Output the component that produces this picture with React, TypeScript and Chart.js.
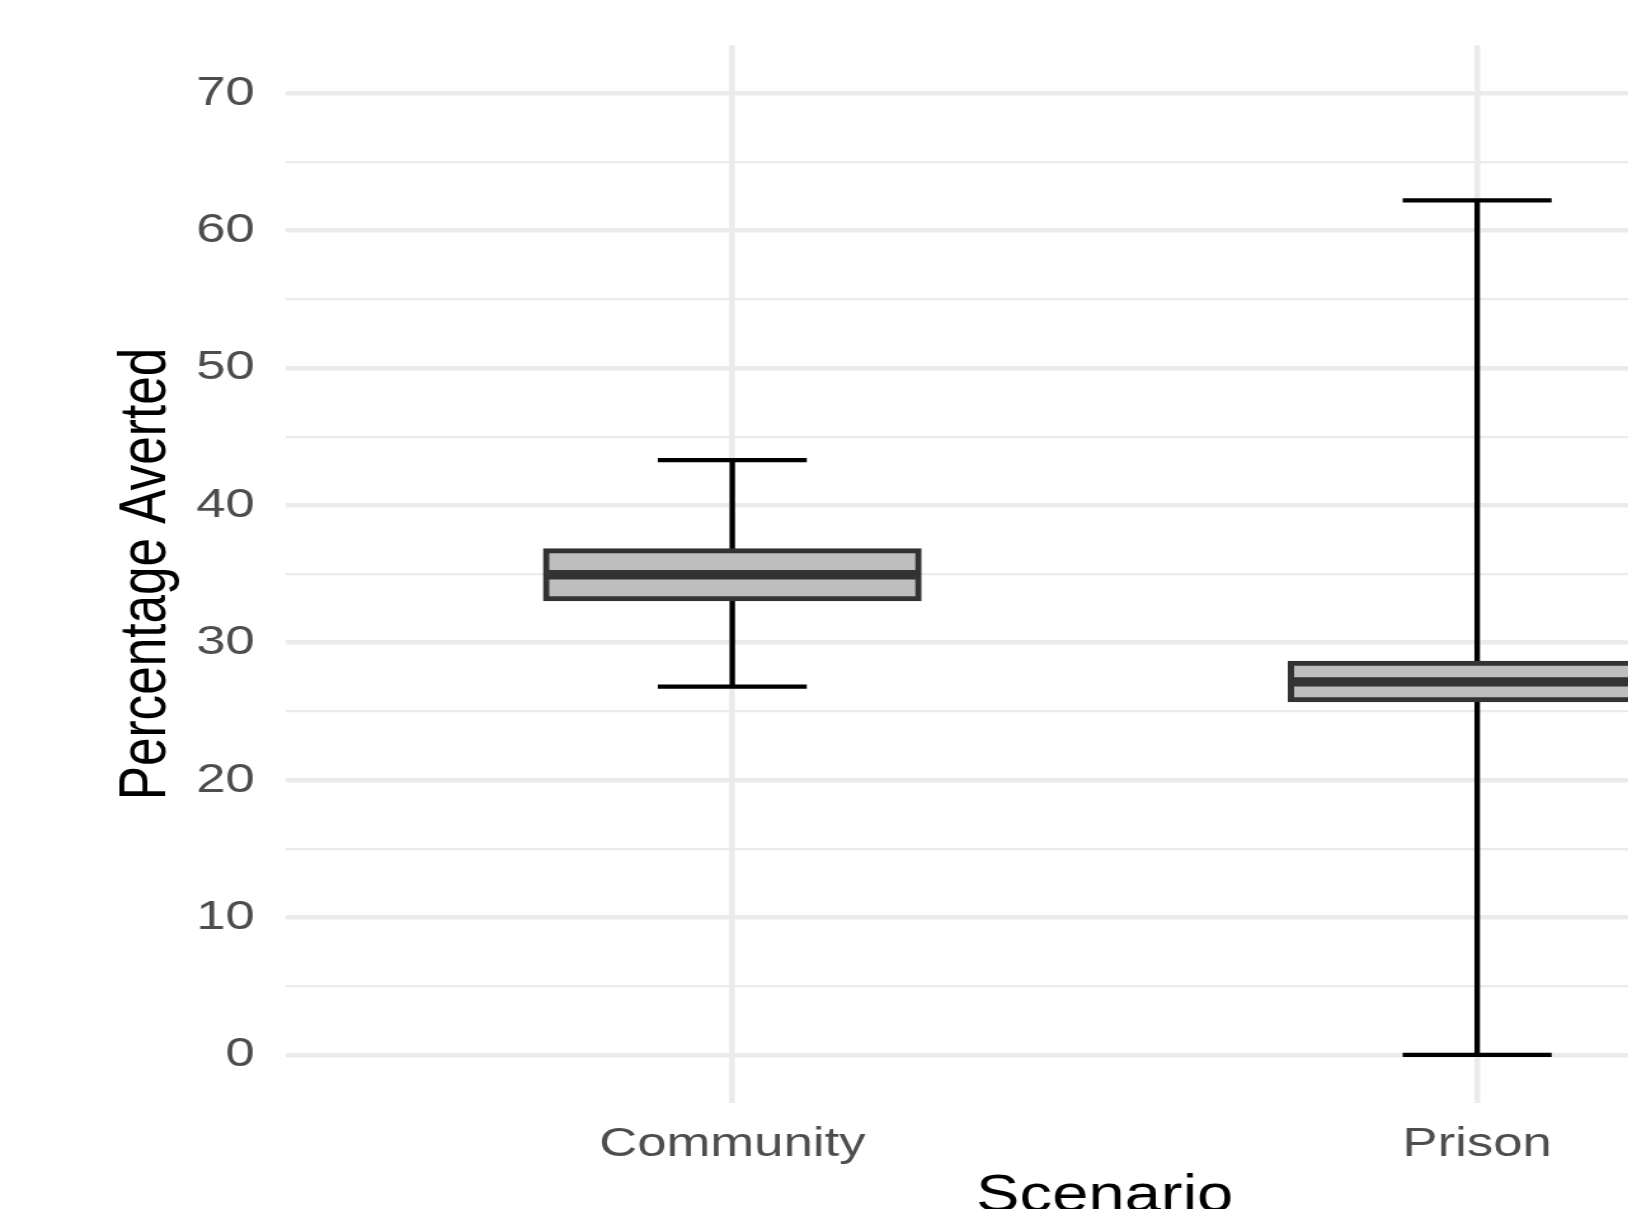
import React, { useEffect, useRef } from 'react';
import { Chart, registerables } from 'chart.js';

Chart.register(...registerables);

// ---- data ----
const categories = ['Community', 'Prison'];
const whiskerLow = [26.8, 0.0];
const q1 = [33.2, 25.85];
const median = [34.95, 27.15];
const q3 = [36.7, 28.5];
const whiskerHigh = [43.3, 62.2];
const yTicks = [0, 5, 10, 15, 20, 25, 30, 35, 40, 45, 50, 55, 60, 65, 70];
const yLabelStep = 10;
const yMin = -3.5;
const yMax = 73.5;
const xMin = -0.6;
const xMax = 1.6;
const capHalfWidth = 0.1;

// ---- layout / style ----
const X_STRETCH = 1.27;
const W = 1580;
const H = 1228;
const FONT = '"Liberation Sans", Arial, Helvetica, sans-serif';
const GRID = '#EBEBEB';

const boxExtras = {
  id: 'boxExtras',
  beforeDatasetsDraw(chart: any) {
    const { ctx } = chart;
    const x = chart.scales.x;
    const y = chart.scales.y;
    ctx.save();
    ctx.strokeStyle = '#000000';
    ctx.lineWidth = 4.3;
    ctx.lineCap = 'butt';
    categories.forEach((_, i) => {
      const cx = x.getPixelForValue(i);
      const yLo = y.getPixelForValue(whiskerLow[i]);
      const yHi = y.getPixelForValue(whiskerHigh[i]);
      ctx.beginPath();
      ctx.moveTo(cx, yLo);
      ctx.lineTo(cx, yHi);
      ctx.stroke();
      const xl = x.getPixelForValue(i - capHalfWidth);
      const xr = x.getPixelForValue(i + capHalfWidth);
      [yLo, yHi].forEach((yy) => {
        ctx.beginPath();
        ctx.moveTo(xl, yy);
        ctx.lineTo(xr, yy);
        ctx.stroke();
      });
    });
    ctx.restore();
  },
  afterDatasetsDraw(chart: any) {
    const { ctx } = chart;
    const y = chart.scales.y;
    const meta = chart.getDatasetMeta(0);
    ctx.save();
    ctx.strokeStyle = '#333333';
    ctx.lineWidth = 9.3;
    ctx.lineCap = 'butt';
    meta.data.forEach((el: any, i: number) => {
      const ym = y.getPixelForValue(median[i]);
      ctx.beginPath();
      ctx.moveTo(el.x - el.width / 2, ym);
      ctx.lineTo(el.x + el.width / 2, ym);
      ctx.stroke();
    });
    ctx.restore();
  },
};

export default function App() {
  const ref = useRef<HTMLCanvasElement | null>(null);

  useEffect(() => {
    if (!ref.current) return;
    const chart = new Chart(ref.current, {
      type: 'bar',
      data: {
        datasets: [
          {
            data: categories.map((_, i) => ({ x: i, y: [q1[i], q3[i]] })) as any,
            backgroundColor: '#BEBEBE',
            borderColor: '#333333',
            borderWidth: 5,
            borderSkipped: false,
            inflateAmount: 2.5,
            categoryPercentage: 1,
            barPercentage: 0.5,
          } as any,
        ],
      },
      options: {
        animation: false,
        responsive: false,
        devicePixelRatio: 1,
        layout: { padding: { top: 45.2, right: W - 1515, bottom: 0, left: 0 } },
        plugins: { legend: { display: false }, tooltip: { enabled: false } },
        scales: {
          x: {
            type: 'linear',
            min: xMin,
            max: xMax,
            offset: false,
            afterBuildTicks: (s: any) => {
              s.ticks = categories.map((_, i) => ({ value: i }));
            },
            afterFit: (s: any) => {
              s.height = H - 1102.9;
              s.paddingLeft = 0;
              s.paddingRight = 0;
            },
            grid: { color: GRID, lineWidth: 4.5, drawTicks: false, offset: false },
            border: { display: false },
            ticks: {
              autoSkip: false,
              maxRotation: 0,
              padding: 17,
              color: '#4D4D4D',
              font: { family: FONT, size: 41.5 },
              callback: (v: any) => categories[v] ?? '',
            },
            title: {
              display: true,
              text: 'Scenario',
              color: '#000000',
              font: { family: FONT, size: 51.3 },
              padding: { top: 0, bottom: 0 },
            },
          },
          y: {
            type: 'linear',
            min: yMin,
            max: yMax,
            afterBuildTicks: (s: any) => {
              s.ticks = yTicks.map((v) => ({ value: v }));
            },
            afterFit: (s: any) => {
              s.width = 224.7;
              s.paddingTop = 0;
              s.paddingBottom = 0;
            },
            grid: {
              color: GRID,
              drawTicks: false,
              lineWidth: (c: any) => (c.tick && c.tick.value % yLabelStep === 0 ? 4.5 : 2.25),
            },
            border: { display: false },
            ticks: {
              padding: 24,
              color: '#4D4D4D',
              font: { family: FONT, size: 41.5 },
              callback: (v: any) => (v % yLabelStep === 0 ? String(v) : ''),
            },
            title: {
              display: true,
              text: 'Percentage Averted',
              color: '#000000',
              font: { family: FONT, size: 51.3 },
              padding: { top: 85, bottom: 0 },
            },
          },
        },
      },
      plugins: [boxExtras],
    });
    return () => chart.destroy();
  }, []);

  return (
    <div
      style={{
        position: 'fixed',
        left: 0,
        top: 0,
        width: 1628,
        height: 1209,
        overflow: 'hidden',
        background: '#FFFFFF',
      }}
    >
      <div
        style={{
          width: W,
          height: H,
          transform: `scaleX(${X_STRETCH})`,
          transformOrigin: '0 0',
        }}
      >
        <canvas ref={ref} width={W} height={H} style={{ display: 'block' }} />
      </div>
    </div>
  );
}
